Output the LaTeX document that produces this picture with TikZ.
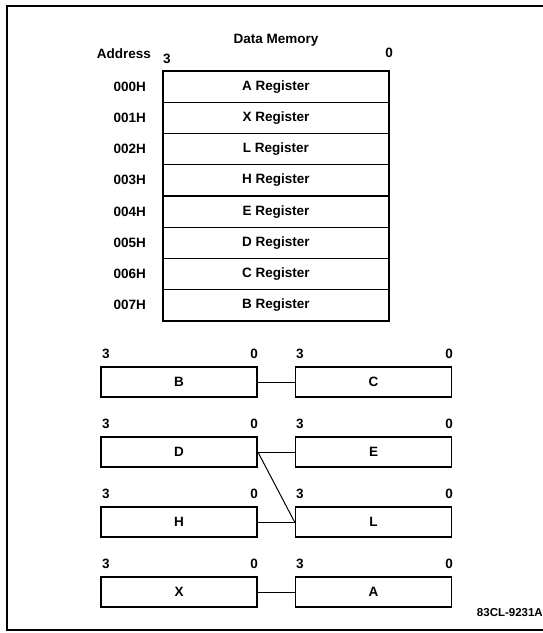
\documentclass[tikz,border=0pt]{standalone}
\usepackage{fontspec}
\setmainfont{Liberation Sans}
\begin{document}
\begin{tikzpicture}[x=1bp,y=-1bp,
  txt/.style={inner sep=0pt,font=\fontsize{13.5bp}{15bp}\selectfont\bfseries},
  reg/.style={draw,line width=1.3bp,minimum width=226bp,minimum height=31.25bp,inner sep=0pt,font=\fontsize{13.5bp}{15bp}\selectfont\bfseries},
  sbox/.style={draw,line width=1.8bp,minimum width=156bp,minimum height=30bp,inner sep=0pt,font=\fontsize{13.5bp}{15bp}\selectfont\bfseries},
  bit/.style={inner sep=0pt,font=\fontsize{13.5bp}{15bp}\selectfont\bfseries},
  link/.style={line width=1bp}]
\useasboundingbox (0,0) rectangle (543,633);
% frame
\draw[line width=1.3bp] (550,6) -- (7,6) -- (7,630) -- (550,630);
% title
\node[txt] (title) at (276,40) {Data Memory};
\node[txt,anchor=east] (addr) at (151,54) {Address};
\node[bit] (t3) at (167,59) {3};
\node[bit] (t0) at (389,53) {0};
% register table
\foreach \i/\a/\r in {0/000H/A,1/001H/X,2/002H/L,3/003H/H,4/004H/E,5/005H/D,6/006H/C,7/007H/B}{
  \node[reg] (m\i) at (276,{86.6+31.25*\i}) {\r{} Register};
  \node[txt,anchor=east] (a\i) at (146,{86.6+31.25*\i}) {\a};
}
% register pairs
\foreach \n/\l/\r/\y in {1/B/C/382,2/D/E/452,3/H/L/522,4/X/A/592}{
  \node[sbox] (L\l) at (179,\y) {\l};
  \node[sbox] (R\r) at (373.5,\y) {\r};
  \node[bit,anchor=west] (L\l3) at (102,{\y-28}) {3};
  \node[bit,anchor=east] (L\l0) at (258,{\y-28}) {0};
  \node[bit,anchor=west] (R\r3) at (296,{\y-28}) {3};
  \node[bit,anchor=east] (R\r0) at (453,{\y-28}) {0};
}
\draw[link] (LB.east) -- (RC.west);
\draw[link] (LD.east) -- (RE.west);
\draw[link] (LD.east) -- (RL.west);
\draw[link] (LH.east) -- (RL.west);
\draw[link] (LX.east) -- (RA.west);
\node[txt,anchor=east,font=\fontsize{11.5bp}{13bp}\selectfont\bfseries] (fig) at (543,613) {83CL-9231A};
\end{tikzpicture}
\end{document}
